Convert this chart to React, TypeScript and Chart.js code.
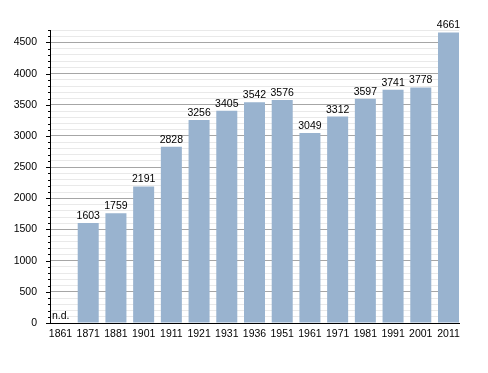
import React, { useEffect, useRef } from "react";
import { Chart, registerables } from "chart.js";

Chart.register(...registerables);

const years = ["1861", "1871", "1881", "1901", "1911", "1921", "1931", "1936", "1951", "1961", "1971", "1981", "1991", "2001", "2011"];
const population: (number | null)[] = [null, 1603, 1759, 2191, 2828, 3256, 3405, 3542, 3576, 3049, 3312, 3597, 3741, 3778, 4661];
const missingLabel = "n.d.";
const yMax = 4700;
const majorStep = 500;
const minorStep = 100;
const barFrac = 0.758;

const FONT = "'Liberation Sans', Arial, sans-serif";
const FSIZE = 10.5;

const overlayPlugin = {
  id: "overlay",
  afterDatasetsDraw(chart: any) {
    const ctx = chart.ctx;
    const meta = chart.getDatasetMeta(0);
    const y = chart.scales.y;
    const area = chart.chartArea;
    ctx.save();
    ctx.strokeStyle = "#000";
    ctx.lineWidth = 1;
    for (let v = 0; v <= yMax; v += minorStep) {
      const py = Math.round(y.getPixelForValue(v)) + 0.5;
      const len = v % majorStep === 0 ? 4 : 2;
      ctx.beginPath();
      ctx.moveTo(area.left - len, py);
      ctx.lineTo(area.left, py);
      ctx.stroke();
    }
    ctx.fillStyle = "#000";
    ctx.font = `${FSIZE}px ${FONT}`;
    ctx.textBaseline = "alphabetic";
    meta.data.forEach((bar: any, i: number) => {
      const v = population[i];
      if (v == null) {
        ctx.textAlign = "left";
        ctx.fillText(missingLabel, area.left + 2, y.getPixelForValue(0) - 4);
        return;
      }
      ctx.textAlign = "center";
      ctx.fillText(String(v), bar.x, bar.y - 4);
    });
    ctx.restore();
  },
};

export default function App() {
  const ref = useRef<HTMLCanvasElement | null>(null);
  useEffect(() => {
    if (!ref.current) return;
    const points = years.map((_, i) => ({ x: i, y: population[i] }));
    const chart = new Chart(ref.current, {
      type: "bar",
      data: {
        datasets: [
          {
            data: points as any,
            backgroundColor: "#99b3cf",
            borderWidth: 0,
            categoryPercentage: 1,
            barPercentage: barFrac,
          },
        ],
      },
      options: {
        responsive: false,
        animation: false,
        layout: { padding: { top: 30, right: 29, left: 0, bottom: 0 } },
        plugins: { legend: { display: false }, tooltip: { enabled: false } },
        scales: {
          x: {
            type: "linear",
            offset: false,
            min: -barFrac / 2,
            max: years.length - 1 + barFrac / 2,
            grid: { display: false, drawTicks: false },
            border: { color: "#000", width: 1 },
            ticks: {
              stepSize: 1,
              includeBounds: false,
              autoSkip: false,
              maxTicksLimit: 100,
              maxRotation: 0,
              color: "#000",
              font: { family: FONT, size: FSIZE },
              padding: 5,
              callback: (v: any) => (Number.isInteger(Number(v)) ? years[Number(v)] ?? "" : ""),
            },
            afterFit: (s: any) => { s.height = 50; },
          },
          y: {
            min: 0,
            max: yMax,
            grid: {
              drawTicks: false,
              color: (c: any) => (c.tick && c.tick.value % majorStep === 0 ? "#a6a6a6" : "#e9e9e9"),
            },
            border: { color: "#000", width: 1 },
            ticks: {
              stepSize: minorStep,
              maxTicksLimit: 100,
              autoSkip: false,
              padding: 13,
              color: "#000",
              font: { family: FONT, size: FSIZE },
              callback: (v: any) => (Number(v) % majorStep === 0 ? String(v) : ""),
            },
            afterFit: (s: any) => { s.width = 50; },
          },
        },
      },
      plugins: [overlayPlugin],
    });
    return () => chart.destroy();
  }, []);
  return (
    <div style={{ position: "absolute", left: 0, top: 0, width: 488, height: 373, background: "#fff" }}>
      <canvas ref={ref} width={488} height={373} />
    </div>
  );
}
